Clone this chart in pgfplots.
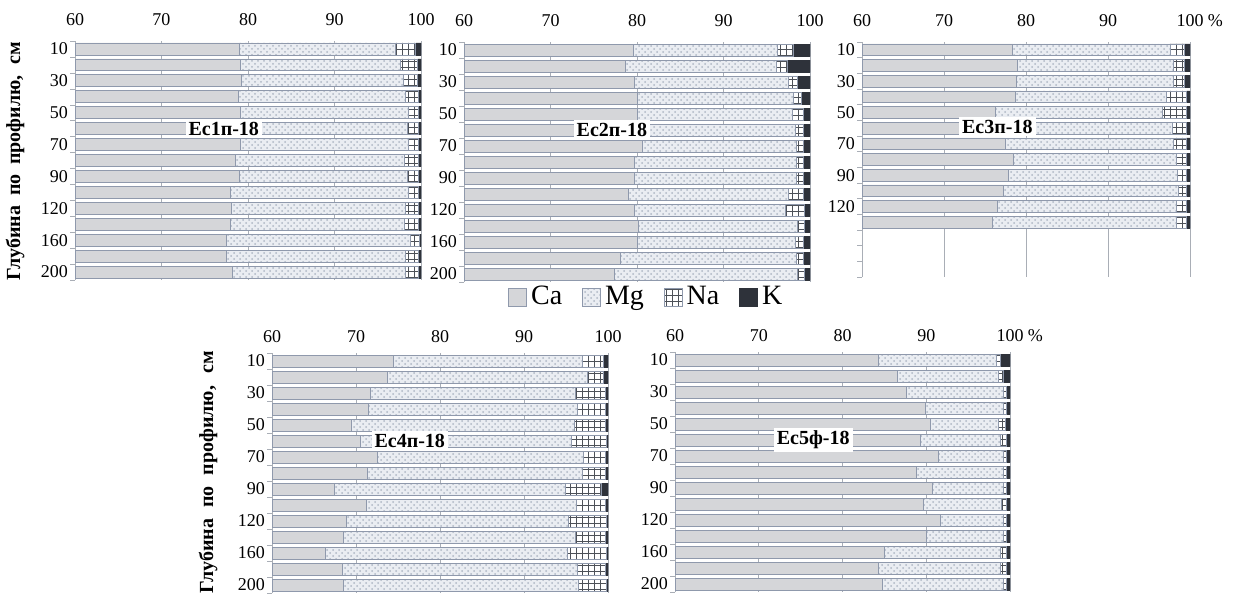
\documentclass[border=0pt]{standalone}
\usepackage{pgfplots}
\pgfplotsset{compat=1.18}
\usepackage{pgfplotstable}
\usetikzlibrary{patterns}
\usepackage{fontspec}
\setmainfont{Liberation Serif}

\definecolor{caC}{HTML}{D5D6D9}
\definecolor{mgC}{HTML}{EAEDF2}
\definecolor{mgP}{HTML}{AFB7C4}
\definecolor{kC}{HTML}{2E323A}
\definecolor{edgeC}{HTML}{8F99AC}
\definecolor{gridC}{HTML}{A9AEB6}

\pgfplotstableread{
y Ca Mg Na K
1 79.0 18.0 2.4 0.6
2 79.1 18.5 2.0 0.4
3 79.2 18.8 1.6 0.4
4 78.9 19.3 1.45 0.35
5 79.1 19.5 1.1 0.3
6 79.1 19.3 1.3 0.3
7 79.1 19.4 1.2 0.3
8 78.6 19.5 1.6 0.3
9 79.0 19.4 1.3 0.3
10 78.0 20.5 1.2 0.3
11 78.1 20.1 1.5 0.3
12 78.0 20.1 1.6 0.3
13 77.5 21.3 1.0 0.2
14 77.5 20.7 1.5 0.3
15 78.2 20.0 1.5 0.3
}\tabA
\pgfplotstableread{
y Ca Mg Na K
1 79.6 16.6 1.9 1.9
2 78.7 17.4 1.3 2.6
3 79.7 17.8 1.1 1.4
4 80.0 18.1 0.9 1.0
5 80.0 18.0 1.2 0.8
6 80.5 17.8 0.9 0.8
7 80.6 17.8 0.8 0.8
8 79.7 18.7 0.8 0.8
9 79.7 18.7 0.8 0.8
10 79.0 18.5 1.7 0.8
11 79.7 17.4 2.3 0.6
12 80.2 18.4 0.8 0.6
13 80.1 18.2 0.9 0.8
14 78.1 20.3 0.8 0.8
15 77.4 21.2 0.8 0.6
}\tabB
\pgfplotstableread{
y Ca Mg Na K
1 78.4 19.2 1.75 0.65
2 79.0 19.0 1.35 0.65
3 78.8 19.2 1.35 0.65
4 78.7 18.4 2.5 0.4
5 76.3 20.3 3.0 0.4
6 78.5 19.3 1.75 0.45
7 77.5 20.5 1.55 0.45
8 78.5 19.8 1.3 0.4
9 77.8 20.7 1.1 0.4
10 77.2 21.4 1.0 0.4
11 76.5 21.8 1.3 0.4
12 75.9 22.5 1.2 0.4
}\tabC
\pgfplotstableread{
y Ca Mg Na K
1 74.5 22.5 2.4 0.6
2 73.7 23.9 1.8 0.6
3 71.7 24.4 3.6 0.3
4 71.5 24.8 3.4 0.3
5 69.5 26.5 3.7 0.3
6 70.5 25.1 4.2 0.2
7 72.6 24.5 2.6 0.3
8 71.4 25.5 2.8 0.3
9 67.4 27.5 4.3 0.8
10 71.2 25.0 3.5 0.3
11 68.9 26.4 4.5 0.2
12 68.5 27.6 3.6 0.3
13 66.3 28.9 4.6 0.2
14 68.4 28.0 3.3 0.3
15 68.5 28.0 3.3 0.2
}\tabD
\pgfplotstableread{
y Ca Mg Na K
1 84.3 14.1 0.5 1.1
2 86.5 12.1 0.6 0.8
3 87.6 11.6 0.4 0.4
4 89.9 9.3 0.4 0.4
5 90.5 8.1 0.8 0.6
6 89.3 9.5 0.8 0.4
7 91.4 7.8 0.4 0.4
8 88.8 10.4 0.4 0.4
9 90.7 8.5 0.4 0.4
10 89.6 9.4 0.6 0.4
11 91.7 7.5 0.4 0.4
12 90.0 9.2 0.4 0.4
13 85.0 13.9 0.7 0.4
14 84.3 14.6 0.7 0.4
15 84.8 14.4 0.4 0.4
}\tabE

\pgfplotsset{
  sqlegend/.style={legend image code/.code={\draw[##1] (0pt,-4.5pt) rectangle (9pt,4.5pt);}},
  caS/.style={fill=caC, draw=edgeC, line width=0.4pt, sqlegend},
  mgS/.style={fill=mgC, draw=edgeC, line width=0.4pt, postaction={pattern=crosshatch dots, pattern color=mgP}, sqlegend},
  naS/.style={fill=white, draw=edgeC, line width=0.4pt, postaction={pattern=grid, pattern color=kC!85}, sqlegend},
  kS/.style={fill=kC, draw=kC, line width=0.4pt, sqlegend},
  panel/.style={
    xbar stacked, scale only axis, bar width=0.75, y dir=reverse,
    xmin=60, xmax=100, ymin=0.5, ymax=15.5,
    xtick={60,70,80,90,100}, xticklabel pos=upper,
    major tick length=0pt,
    ytick={1,3,...,15}, yticklabel pos=left,
    minor ytick={0.5,1.5,...,15.5}, minor tick length=2.5pt,
    tick align=outside, ytick pos=left,
    minor tick style={draw=gridC},
    separate axis lines, x axis line style={draw=none}, y axis line style={draw=gridC},
    xmajorgrids, grid style={draw=gridC, line width=0.5pt},
    tick label style={font=\fontsize{9}{10}\selectfont},
    /pgf/number format/assume math mode=true,
  },
  toprow/.style={xticklabel style={yshift=4pt}},
  lowrow/.style={xticklabel style={yshift=1.5pt}},
}

\newcommand{\ylab}{\fontsize{10}{12}\selectfont\bfseries}
\newcommand{\plab}{\fontsize{10}{12}\selectfont\bfseries}

\begin{document}
\begin{tikzpicture}
\useasboundingbox (0,0) rectangle (621pt,-297.5pt);

% Panel 1
\begin{axis}[panel, toprow, at={(37.5pt,-20.5pt)}, anchor=north west, width=173pt, height=119.5pt,
  yticklabels={10,30,50,70,90,120,160,200}]
\addplot[caS] table[x=Ca,y=y]{\tabA};
\addplot[mgS] table[x=Mg,y=y]{\tabA};
\addplot[naS] table[x=Na,y=y]{\tabA};
\addplot[kS] table[x=K,y=y]{\tabA};
\coordinate (L1) at (axis cs:77.2,6);
\end{axis}
\node[fill=white, inner sep=1.5pt, font=\plab] at (L1) {Ес1п-18};

% Panel 2
\begin{axis}[panel, toprow, at={(232pt,-21pt)}, anchor=north west, width=173pt, height=120pt,
  yticklabels={10,30,50,70,90,120,160,200},
  legend style={at={(0.53,-0.0625)}, anchor=center, draw=none, fill=none,
    legend columns=4, font=\fontsize{14}{16}\selectfont,
    /tikz/every even column/.append style={column sep=8pt}},
  legend cell align=left]
\addplot[caS] table[x=Ca,y=y]{\tabB};
\addplot[mgS] table[x=Mg,y=y]{\tabB};
\addplot[naS] table[x=Na,y=y]{\tabB};
\addplot[kS] table[x=K,y=y]{\tabB};
\legend{Ca,Mg,Na,K}
\coordinate (L2) at (axis cs:77.1,6);
\end{axis}
\node[fill=white, inner sep=1.5pt, font=\plab] at (L2) {Ес2п-18};

% Panel 3
\begin{axis}[panel, toprow, at={(431pt,-21pt)}, anchor=north west, width=164pt, height=117.5pt,
  yticklabels={10,30,50,70,90,120,,},
  xticklabels={60,70,80,90,{100\rlap{ \%}}}]
\addplot[caS] table[x=Ca,y=y]{\tabC};
\addplot[mgS] table[x=Mg,y=y]{\tabC};
\addplot[naS] table[x=Na,y=y]{\tabC};
\addplot[kS] table[x=K,y=y]{\tabC};
\coordinate (L3) at (axis cs:76.5,5.9);
\end{axis}
\node[fill=white, inner sep=1.5pt, font=\plab] at (L3) {Ес3п-18};

% Panel 4
\begin{axis}[panel, lowrow, at={(136pt,-176.5pt)}, anchor=north west, width=168pt, height=120pt,
  yticklabels={10,30,50,70,90,120,160,200}]
\addplot[caS] table[x=Ca,y=y]{\tabD};
\addplot[mgS] table[x=Mg,y=y]{\tabD};
\addplot[naS] table[x=Na,y=y]{\tabD};
\addplot[kS] table[x=K,y=y]{\tabD};
\coordinate (L4) at (axis cs:76.4,6);
\end{axis}
\node[fill=white, inner sep=1.5pt, font=\plab] at (L4) {Ес4п-18};

% Panel 5
\begin{axis}[panel, lowrow, at={(337.5pt,-176pt)}, anchor=north west, width=167.5pt, height=120pt,
  yticklabels={10,30,50,70,90,120,160,200},
  xticklabels={60,70,80,90,{100\rlap{ \%}}}]
\addplot[caS] table[x=Ca,y=y]{\tabE};
\addplot[mgS] table[x=Mg,y=y]{\tabE};
\addplot[naS] table[x=Na,y=y]{\tabE};
\addplot[kS] table[x=K,y=y]{\tabE};
\coordinate (L5) at (axis cs:76.5,6);
\end{axis}
\node[fill=white, inner sep=1.5pt, font=\plab] at (L5) {Ес5ф-18};

\node[rotate=90, font=\ylab] at (7.5pt,-80.5pt) {\makebox[119pt][s]{Глубина по профилю, см}};
\node[rotate=90, font=\ylab] at (104pt,-236pt) {\makebox[121pt][s]{Глубина по профилю, см}};
\end{tikzpicture}
\end{document}
